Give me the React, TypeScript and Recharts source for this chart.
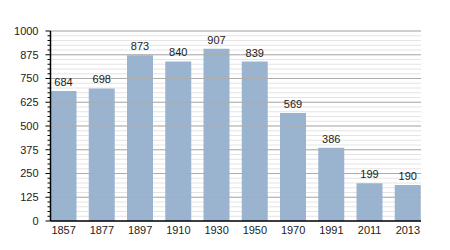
import React from 'react'
import { BarChart, Bar, XAxis, YAxis, CartesianGrid, ReferenceLine, LabelList } from 'recharts'

const years = ['1857', '1877', '1897', '1910', '1930', '1950', '1970', '1991', '2011', '2013']
const population = [684, 698, 873, 840, 907, 839, 569, 386, 199, 190]

const majorTicks = [0, 125, 250, 375, 500, 625, 750, 875, 1000]
const allTicks = [
    0, 25, 50, 75, 100, 125, 150, 175, 200, 225, 250, 275, 300, 325, 350, 375, 400, 425, 450, 475, 500,
    525, 550, 575, 600, 625, 650, 675, 700, 725, 750, 775, 800, 825, 850, 875, 900, 925, 950, 975, 1000,
]

const data = years.map((year, i) => ({ year, value: population[i] }))

const FONT = '"Liberation Sans", Arial, sans-serif'
const BAR_COLOR = '#9ab3cf'
const TICK_SIZE = 3
const TICK_MARGIN = 9

const YTick = (props: any) => {
    const { x, y, payload } = props
    const major = majorTicks.includes(payload.value)
    const axisX = x + TICK_SIZE + TICK_MARGIN
    return (
        <g>
            <line x1={axisX - (major ? 5 : 3)} x2={axisX} y1={y} y2={y} stroke="#000" strokeWidth={1} />
            {major && (
                <text x={x} y={y} dy="0.355em" textAnchor="end" fontSize={11} fill="#222" fontFamily={FONT}>
                    {payload.value}
                </text>
            )}
        </g>
    )
}

export default function App() {
    return (
        <BarChart
            width={450}
            height={250}
            data={data}
            margin={{ top: 23, right: 37, bottom: 17, left: 0 }}
            barCategoryGap={6}
        >
            <CartesianGrid vertical={false} stroke="#e4e4e4" />
            {majorTicks
                .filter((t) => t > 0)
                .map((t) => (
                    <ReferenceLine key={t} y={t} stroke="#adadad" />
                ))}
            <XAxis
                dataKey="year"
                tickLine={false}
                tickSize={5}
                tickMargin={0}
                height={20}
                padding={{ left: -6, right: -6 }}
                axisLine={{ stroke: '#000', strokeWidth: 1.5 }}
                tick={{ fontSize: 11, fill: '#222', fontFamily: FONT }}
            />
            <YAxis
                width={42.5}
                domain={[0, 1000]}
                ticks={allTicks}
                interval={0}
                tickLine={false}
                tickSize={TICK_SIZE}
                tickMargin={TICK_MARGIN}
                axisLine={{ stroke: '#000', strokeWidth: 1.5 }}
                tick={<YTick />}
            />
            <Bar dataKey="value" fill={BAR_COLOR} isAnimationActive={false}>
                <LabelList dataKey="value" position="top" fontSize={11} fill="#222" fontFamily={FONT} />
            </Bar>
        </BarChart>
    )
}
